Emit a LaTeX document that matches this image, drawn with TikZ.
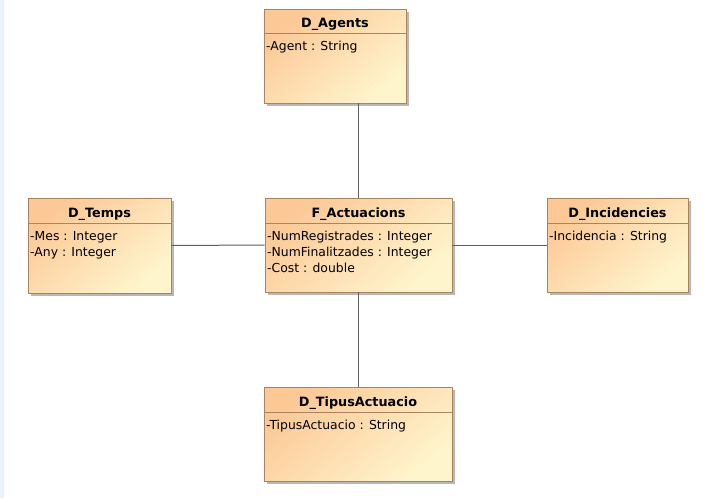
\documentclass[tikz,border=0pt]{standalone}
\usepackage{fontspec}
\setmainfont{DejaVu Sans}
\usetikzlibrary{shadows}
\definecolor{boxtop}{RGB}{252,200,150}
\definecolor{boxbot}{RGB}{255,245,205}
\definecolor{boxline}{RGB}{168,132,96}
\definecolor{edgecol}{RGB}{95,95,95}
\definecolor{sidestrip}{RGB}{234,242,252}
\tikzset{
  umlclass/.style={rectangle, draw=boxline, line width=0.9pt,
    top color=boxtop, bottom color=boxbot, shading angle=40,
    drop shadow={shadow xshift=3pt, shadow yshift=-3pt, fill=black!28, opacity=1},
    inner sep=0pt},
  classtitle/.style={anchor=base, font=\fontsize{12.8}{15}\selectfont\bfseries, inner sep=0pt},
  attr/.style={anchor=base west, inner sep=0pt, font=\fontsize{12.4}{15}\selectfont},
  sepline/.style={draw=boxline, line width=0.9pt},
  assoc/.style={draw=edgecol, line width=1pt}
}
% #1 name, #2 left, #3 top, #4 right, #5 bottom, #6 title, #7 header bottom
\newcommand{\umlbox}[7]{%
  \node[umlclass, minimum width=#4-#2, minimum height=#5-#3]
    (#1) at ({(#2+#4)/2},{(#3+#5)/2}) {};
  \draw[sepline] (#2,#7) -- (#4,#7);
  \node[classtitle] (#1-title) at ({(#2+#4)/2},#7-6) {#6};
}
% #1 node name, #2 left, #3 baseline, #4 text
\newcommand{\umlattr}[4]{\node[attr] (#1) at (#2+2,#3) {#4};}
\begin{document}
\begin{tikzpicture}[x=1pt,y=-1pt]
  \useasboundingbox (0,0) rectangle (712,498);
  \fill[white] (0,0) rectangle (712,498);
  \fill[sidestrip] (0,0) rectangle (4,498);

  % classes of the star schema
  \umlbox{agents}{264}{9}{406}{103}{D\_Agents}{33}
  \umlattr{agents-a1}{264}{50}{-Agent : String}

  \umlbox{fact}{265}{198}{452}{292}{F\_Actuacions}{223}
  \umlattr{fact-a1}{265}{240}{-NumRegistrades : Integer}
  \umlattr{fact-a2}{265}{256}{-NumFinalitzades : Integer}
  \umlattr{fact-a3}{265}{272}{-Cost : double}

  \umlbox{temps}{28}{198}{171}{293}{D\_Temps}{223}
  \umlattr{temps-a1}{28}{240}{-Mes : Integer}
  \umlattr{temps-a2}{28}{256}{-Any : Integer}

  \umlbox{incid}{547}{198}{688}{292}{D\_Incidencies}{223}
  \umlattr{incid-a1}{547}{240}{-Incidencia : String}

  \umlbox{tipus}{264}{387}{452}{481}{D\_TipusActuacio}{412}
  \umlattr{tipus-a1}{264}{429}{-TipusActuacio : String}

  % associations
  \draw[assoc] (fact.north) -- (fact.north |- agents.south);
  \draw[assoc] (temps.east) -- (fact.west);
  \draw[assoc] (fact.east) -- (incid.west);
  \draw[assoc] (fact.south) -- (fact.south |- tipus.north);
\end{tikzpicture}
\end{document}
